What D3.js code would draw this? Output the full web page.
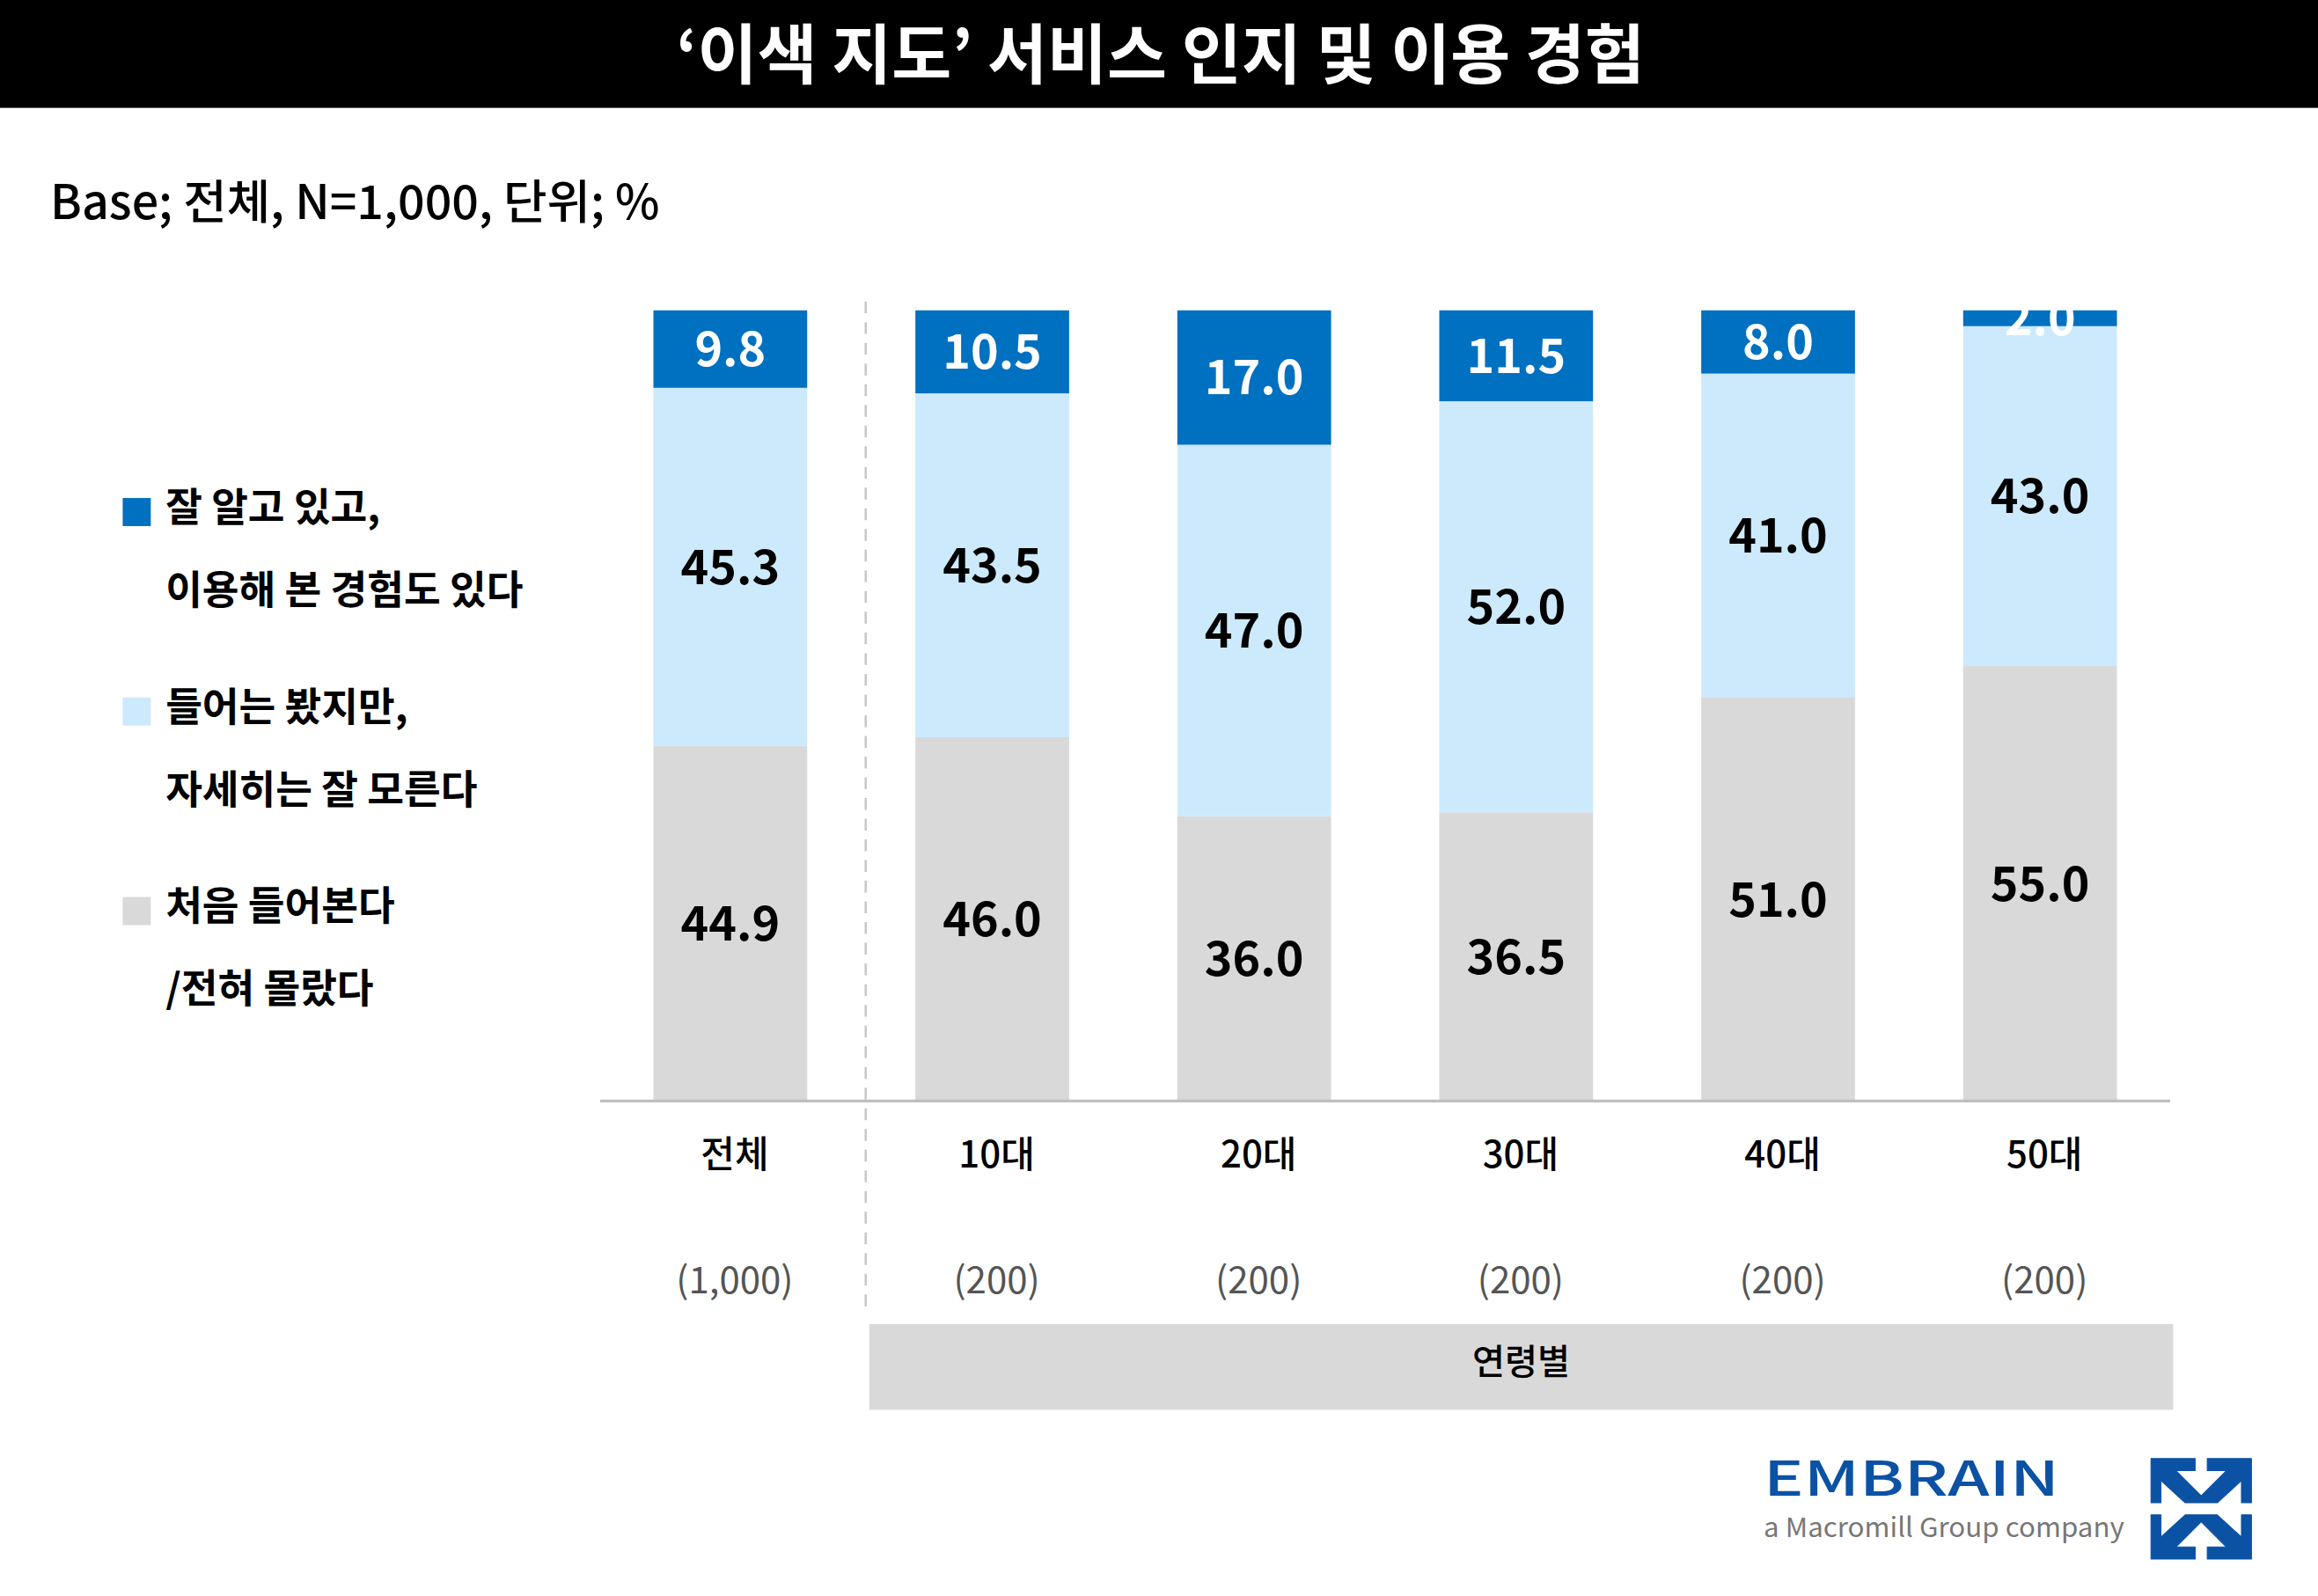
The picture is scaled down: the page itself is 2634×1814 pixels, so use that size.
<!DOCTYPE html>
<html>
<head>
<meta charset="utf-8">
<script src="https://cdn.jsdelivr.net/npm/d3@7"></script>
<style>
  html, body { margin: 0; padding: 0; background: #fff; }
  svg { display: block; }
  text { font-family: "Noto Sans CJK KR", "Noto Sans", sans-serif; }
</style>
</head>
<body>
<svg id="chart"></svg>
<script>
// chart data
const categories = ["전체", "10대", "20대", "30대", "40대", "50대"];
const sampleSizes = ["(1,000)", "(200)", "(200)", "(200)", "(200)", "(200)"];
const knowAndUsed = [9.8, 10.5, 17.0, 11.5, 8.0, 2.0];
const heardOnly = [45.3, 43.5, 47.0, 52.0, 41.0, 43.0];
const neverHeard = [44.9, 46.0, 36.0, 36.5, 51.0, 55.0];
const seriesKeys = ["never", "heard", "know"];
const legendLabels = [
  ["잘 알고 있고,", "이용해 본 경험도 있다"],
  ["들어는 봤지만,", "자세히는 잘 모른다"],
  ["처음 들어본다", "/전혀 몰랐다"]
];

const W = 1568, H = 1080;
const colors = { know: "#0070C0", heard: "#CCEAFC", never: "#D9D9D9" };

const svg = d3.select("#chart")
  .attr("width", 2634)
  .attr("height", 1814)
  .attr("viewBox", `0 0 ${W} ${H}`)
  .attr("preserveAspectRatio", "none");

// title bar
svg.append("rect").attr("x", 0).attr("y", 0).attr("width", W).attr("height", 73).attr("fill", "#000");
svg.append("text")
  .attr("x", W / 2 + 1).attr("y", 53)
  .attr("text-anchor", "middle")
  .attr("fill", "#fff")
  .attr("font-size", 44)
  .attr("font-weight", 700)
  .text("‘이색 지도’ 서비스 인지 및 이용 경험");

svg.append("text")
  .attr("x", 34).attr("y", 148)
  .attr("fill", "#000")
  .attr("font-size", 32)
  .attr("font-weight", 500)
  .text("Base; 전체, N=1,000, 단위; %");

// scales
const x = d3.scaleBand()
  .domain(categories)
  .range([442, 1432])
  .paddingInner(0.413)
  .paddingOuter(0);

const y = d3.scaleLinear().domain([0, 100]).range([745, 210]);

const rows = categories.map((c, i) => ({
  cat: c, know: knowAndUsed[i], heard: heardOnly[i], never: neverHeard[i]
}));
const stacked = d3.stack().keys(seriesKeys)(rows);

const chart = svg.append("g");

const layers = chart.selectAll(".layer")
  .data(stacked)
  .join("g")
  .attr("class", "layer")
  .attr("fill", d => colors[d.key]);

layers.selectAll("rect")
  .data(d => d)
  .join("rect")
  .attr("x", d => x(d.data.cat))
  .attr("y", d => y(d[1]))
  .attr("width", x.bandwidth())
  .attr("height", d => y(d[0]) - y(d[1]));

// value labels
layers.selectAll("text")
  .data(d => d.map(v => ({ v, key: d.key })))
  .join("text")
  .attr("x", d => x(d.v.data.cat) + x.bandwidth() / 2)
  .attr("y", d => (y(d.v[0]) + y(d.v[1])) / 2)
  .attr("dy", "0.36em")
  .attr("text-anchor", "middle")
  .attr("font-size", 32)
  .attr("font-weight", 700)
  .attr("fill", d => d.key === "know" ? "#fff" : "#000")
  .text(d => (d.v[1] - d.v[0]).toFixed(1));

// baseline
chart.append("line")
  .attr("x1", 406).attr("x2", 1468)
  .attr("y1", y(0)).attr("y2", y(0))
  .attr("stroke", "#BFBFBF").attr("stroke-width", 2);

// separator between total and age groups
const sepX = (x(categories[0]) + x.bandwidth() + x(categories[1])) / 2 + 3;
chart.append("line")
  .attr("x1", sepX).attr("x2", sepX)
  .attr("y1", 204).attr("y2", 890)
  .attr("stroke", "#C8C8C8").attr("stroke-width", 1.5)
  .attr("stroke-dasharray", "8,6");

// category axis
const xAxis = chart.append("g")
  .attr("transform", `translate(0,${y(0)})`)
  .call(d3.axisBottom(x).tickSize(0).tickPadding(0));
xAxis.select(".domain").remove();
xAxis.selectAll("text")
  .attr("x", 3)
  .attr("y", 45)
  .attr("dy", 0)
  .attr("font-size", 25)
  .attr("font-weight", 500)
  .attr("fill", "#000")
  .style("font-family", "'Noto Sans CJK KR', sans-serif");

chart.selectAll(".n-label")
  .data(categories)
  .join("text")
  .attr("class", "n-label")
  .attr("x", d => x(d) + x.bandwidth() / 2 + 3)
  .attr("y", 875)
  .attr("text-anchor", "middle")
  .attr("font-size", 25)
  .attr("fill", "#555")
  .text((d, i) => sampleSizes[i]);

// age group band
chart.append("rect")
  .attr("x", 588).attr("y", 896)
  .attr("width", 882).attr("height", 58)
  .attr("fill", "#D9D9D9");
chart.append("text")
  .attr("x", 1029).attr("y", 930)
  .attr("text-anchor", "middle")
  .attr("font-size", 24)
  .attr("font-weight", 500)
  .attr("fill", "#000")
  .text("연령별");

// legend
const legendKeys = ["know", "heard", "never"];
const legend = svg.append("g").selectAll("g")
  .data(legendKeys)
  .join("g")
  .attr("transform", (d, i) => `translate(83,${337 + i * 135})`);
legend.append("rect")
  .attr("width", 19).attr("height", 19)
  .attr("fill", d => colors[d]);
legend.each(function(d, i) {
  const g = d3.select(this);
  legendLabels[i].forEach((line, j) => {
    g.append("text")
      .attr("x", 29)
      .attr("y", 16 + j * 56)
      .attr("font-size", 27)
      .attr("font-weight", 700)
      .attr("fill", "#000")
      .text(line);
  });
});

// logo
const logoBlue = "#0B52A4";
svg.append("text")
  .attr("x", 1193).attr("y", 1012)
  .attr("font-family", "Roboto, 'Noto Sans', sans-serif")
  .attr("font-size", 32)
  .attr("font-weight", 500)
  .attr("fill", logoBlue)
  .attr("textLength", 200)
  .attr("lengthAdjust", "spacingAndGlyphs")
  .text("EMBRAIN");
svg.append("text")
  .attr("x", 1193).attr("y", 1040)
  .attr("font-family", "Roboto, 'Noto Sans', sans-serif")
  .attr("font-size", 18)
  .attr("fill", "#777")
  .attr("textLength", 244)
  .attr("lengthAdjust", "spacingAndGlyphs")
  .text("a Macromill Group company");

const iconPts = [
  [[0,0],[0.44,0],[0.44,0.12],[0.10,0.12],[0.10,0.44],[0,0.44]],
  [[1,0],[0.56,0],[0.56,0.12],[0.90,0.12],[0.90,0.44],[1,0.44]],
  [[0.10,0.12],[0.25,0.12],[0.5,0.37],[0.75,0.12],[0.90,0.12],[0.90,0.22],[0.66,0.44],[0.34,0.44],[0.10,0.22]]
];
const iconShapes = iconPts.concat(iconPts.map(p => p.map(([a, b]) => [a, 1 - b])));
const iconSize = 68;
svg.append("g")
  .attr("transform", "translate(1455,987)")
  .selectAll("path")
  .data(iconShapes)
  .join("path")
  .attr("d", p => d3.line()(p.map(([a, b]) => [a * iconSize, b * iconSize])) + "Z")
  .attr("fill", logoBlue)
  .attr("stroke", logoBlue)
  .attr("stroke-width", 0.6)
  .attr("stroke-linejoin", "round");
</script>
</body>
</html>
